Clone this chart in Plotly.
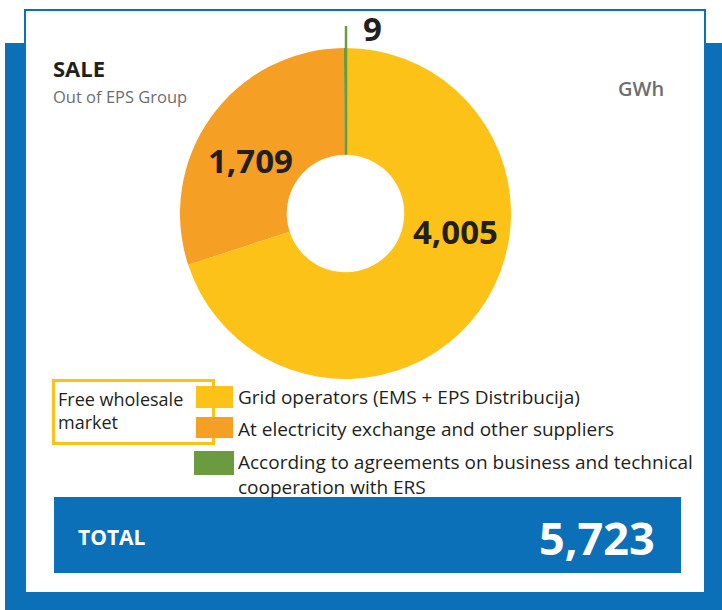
import plotly.graph_objects as go

# ---- data ----
categories = ["Grid operators (EMS + EPS Distribucija)",
              "At electricity exchange and other suppliers",
              "According to agreements on business and technical cooperation with ERS"]
values = [4005, 1709, 9]
colors = ["#FDC218", "#F59F24", "#6A9B41"]
total = 5723
title = "SALE"
subtitle = "Out of EPS Group"
unit = "GWh"
group_label = ["Free wholesale", "market"]
legend_lines = [["Grid operators (EMS + EPS Distribucija)"],
                ["At electricity exchange and other suppliers"],
                ["According to agreements on business and technical", "cooperation with ERS"]]

W, H = 722, 610
BLUE = "#0C70B9"
DARK = "#231F20"
GRAY = "#6D6E71"
FONT = "Open Sans"

def px(x):
    return x / W

def py(y):
    return 1 - y / H

# donut geometry (pixels)
cx, cy, R, hole = 345.5, 213.5, 165.5, 0.355

fig = go.Figure()
fig.add_trace(go.Pie(
    labels=categories, values=values, sort=False, direction="clockwise", rotation=0,
    hole=hole, textinfo="none", marker=dict(colors=colors, line=dict(width=0)),
    domain=dict(x=[px(cx - R), px(cx + R)], y=[py(cy + R), py(cy - R)]),
    showlegend=False, hoverinfo="label+value",
))

shapes = []
# blue background
shapes.append(dict(type="rect", xref="paper", yref="paper", x0=px(5), x1=px(722), y0=py(610), y1=py(43),
                   fillcolor=BLUE, line=dict(width=0), layer="below"))
# white card
shapes.append(dict(type="rect", xref="paper", yref="paper", x0=px(25), x1=px(705), y0=py(593), y1=py(10),
                   fillcolor="white", line=dict(color=BLUE, width=2), layer="below"))
# total box
shapes.append(dict(type="rect", xref="paper", yref="paper", x0=px(54), x1=px(681), y0=py(573), y1=py(497),
                   fillcolor=BLUE, line=dict(width=0), layer="below"))
# leader line for smallest slice
shapes.append(dict(type="line", xref="paper", yref="paper", x0=px(cx + 0.5), x1=px(cx + 0.5),
                   y0=py(cy - R * hole), y1=py(26), line=dict(color=colors[2], width=2.5)))
# Free wholesale market box
shapes.append(dict(type="rect", xref="paper", yref="paper", x0=px(53.5), x1=px(213.5), y0=py(443.5), y1=py(380.5),
                   fillcolor="rgba(0,0,0,0)", line=dict(color=colors[0], width=3)))
# legend squares
sq = [(196, 233, 386, 408), (196, 233, 417, 438), (194, 234, 451, 475)]
for (x0, x1, y0, y1), c in zip(sq, colors):
    shapes.append(dict(type="rect", xref="paper", yref="paper", x0=px(x0), x1=px(x1), y0=py(y1), y1=py(y0),
                       fillcolor=c, line=dict(width=0)))

ann = []
def text(x, y, t, size, color=DARK, bold=False, xanchor="left", weight=None):
    ann.append(dict(xref="paper", yref="paper", x=px(x), y=py(y), text=t, showarrow=False,
                    xanchor=xanchor, yanchor="middle", align="left",
                    font=dict(family=FONT, size=size, color=color,
                              weight=weight if weight else (700 if bold else 400))))

text(51, 68, title, 22, bold=True)
text(51, 96, subtitle, 16.5, color=GRAY)
text(641, 89, unit, 20, color=GRAY, weight=600, xanchor="center")

# value labels
text(455, 232, f"{values[0]:,}", 33, bold=True, xanchor="center")
text(250, 160, f"{values[1]:,}", 33, bold=True, xanchor="center")
text(372, 29, f"{values[2]:,}", 33, bold=True, xanchor="center")

# legend texts
text(56, 411, "<br>".join(group_label), 18)
text(236, 397, legend_lines[0][0], 19)
text(236, 429, legend_lines[1][0], 19)
text(236, 474, "<br>".join(legend_lines[2]), 19)

# total
text(76, 537, "TOTAL", 21, color="white", bold=True)
text(657, 537, f"{total:,}", 45, color="white", bold=True, xanchor="right")

fig.update_layout(width=W, height=H, margin=dict(l=0, r=0, t=0, b=0),
                  paper_bgcolor="white", plot_bgcolor="white",
                  shapes=shapes, annotations=ann, font=dict(family=FONT))
fig.write_html("out.html", config={"displayModeBar": False},
               post_script="document.body.style.margin='0';document.body.style.padding='0';")
